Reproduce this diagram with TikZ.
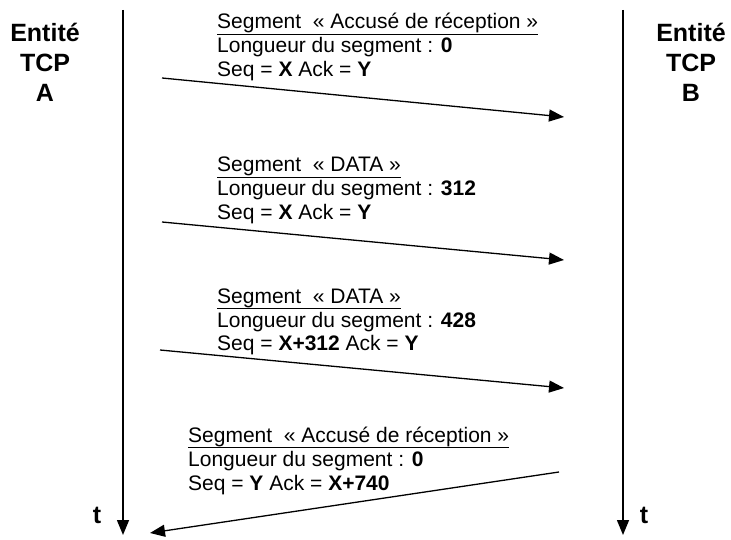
\documentclass[tikz,border=0pt]{standalone}
\usepackage{fontspec}
\setmainfont{Liberation Sans}
\usetikzlibrary{arrows.meta}
\newcommand\ulseg[1]{\vtop{\hbox{#1}\kern0.4pt\hrule height 1.4pt}}
\begin{document}
\begin{tikzpicture}[x=1pt,y=-1pt,
  lifeline/.style={line width=1.5pt,-{Triangle[length=15pt,width=12pt]}},
  msg/.style={line width=1.3pt,-{Triangle[length=15pt,width=12pt]}},
  lbl/.style={anchor=base west,inner sep=0pt,font=\fontsize{21}{24}\selectfont},
  hdr/.style={anchor=base,inner sep=0pt,font=\bfseries\fontsize{25}{30}\selectfont},
  tlbl/.style={anchor=base,inner sep=0pt,font=\bfseries\fontsize{25}{28}\selectfont}]
\useasboundingbox (0,0) rectangle (731,540);
% headers
\node[hdr] (ha1) at (45,42) {Entité};
\node[hdr] (ha2) at (45,72) {TCP};
\node[hdr] (ha3) at (45,102) {A};
\node[hdr] (hb1) at (691,42) {Entité};
\node[hdr] (hb2) at (691,72) {TCP};
\node[hdr] (hb3) at (691,102) {B};
% lifelines
\coordinate (a0) at (123,10);
\coordinate (a1) at (123,535);
\coordinate (b0) at (623,10);
\coordinate (b1) at (623,535);
\draw[lifeline] (a0) -- (a1);
\draw[lifeline] (b0) -- (b1);
\node[tlbl] (ta) at (97,523) {t};
\node[tlbl] (tb) at (644,523) {t};
% message 1
\node[lbl] (l1a) at (217,29) {\ulseg{Segment\ \ « Accusé de réception »}};
\node[lbl] (l1b) at (217,53) {Longueur du segment : \textbf{0}};
\node[lbl] (l1c) at (217,77) {Seq = \textbf{X} Ack = \textbf{Y}};
\coordinate (m1s) at (162,78);
\coordinate (m1e) at (564,117);
\draw[msg] (m1s) -- (m1e);
% message 2
\node[lbl] (l2a) at (217,172) {\ulseg{Segment\ \ « DATA »}};
\node[lbl] (l2b) at (217,196) {Longueur du segment : \textbf{312}};
\node[lbl] (l2c) at (217,220) {Seq = \textbf{X} Ack = \textbf{Y}};
\coordinate (m2s) at (162,222);
\coordinate (m2e) at (564,260);
\draw[msg] (m2s) -- (m2e);
% message 3
\node[lbl] (l3a) at (217,303) {\ulseg{Segment\ \ « DATA »}};
\node[lbl] (l3b) at (217,327) {Longueur du segment : \textbf{428}};
\node[lbl] (l3c) at (217,350) {Seq = \textbf{X+312} Ack = \textbf{Y}};
\coordinate (m3s) at (160,350);
\coordinate (m3e) at (564,388);
\draw[msg] (m3s) -- (m3e);
% message 4
\node[lbl] (l4a) at (188,442) {\ulseg{Segment\ \ « Accusé de réception »}};
\node[lbl] (l4b) at (188,466) {Longueur du segment : \textbf{0}};
\node[lbl] (l4c) at (188,490) {Seq = \textbf{Y} Ack = \textbf{X+740}};
\coordinate (m4s) at (559,472);
\coordinate (m4e) at (150,533);
\draw[msg] (m4s) -- (m4e);
\end{tikzpicture}
\end{document}
